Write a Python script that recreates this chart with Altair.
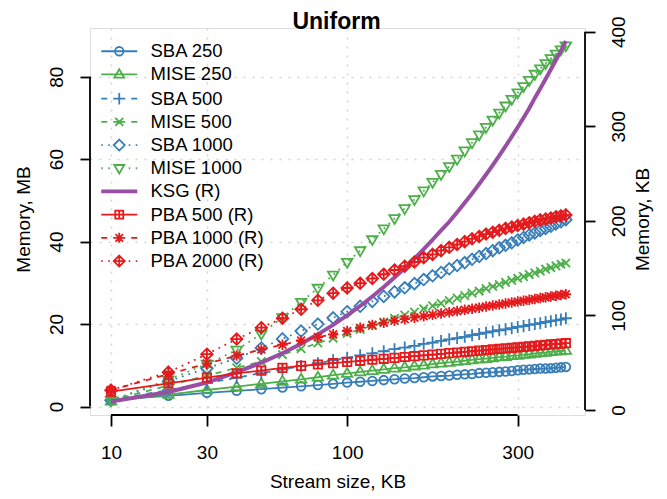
import altair as alt
import pandas as pd

# ---------------- data ----------------
stream_kb = [10, 20, 30, 40, 50, 60, 70, 80, 90, 100, 110, 120, 130, 140, 150, 160, 170, 180, 190, 200,
             210, 220, 230, 240, 250, 260, 270, 280, 290, 300, 310, 320, 330, 340, 350, 360, 370, 380, 390]

# left axis (MB)
sba_250 = [1.6, 2.6, 3.3, 3.8, 4.2, 4.6, 4.9, 5.2, 5.5, 5.8, 6.0, 6.2, 6.4, 6.6, 6.8, 6.9, 7.1, 7.3, 7.4, 7.5,
           7.7, 7.8, 7.9, 8.1, 8.2, 8.3, 8.4, 8.5, 8.6, 8.8, 8.9, 9.0, 9.1, 9.2, 9.2, 9.3, 9.4, 9.5, 9.6]
mise_250 = [1.3, 2.9, 4.0, 4.8, 5.5, 6.1, 6.6, 7.1, 7.6, 8.0, 8.4, 8.7, 9.0, 9.3, 9.5, 9.8, 10.0, 10.3, 10.5, 10.7,
            10.9, 11.1, 11.3, 11.5, 11.6, 11.8, 12.0, 12.1, 12.3, 12.4, 12.6, 12.7, 12.9, 13.0, 13.1, 13.3, 13.4, 13.5, 13.6]
sba_500 = [1.5, 4.0, 5.7, 7.0, 8.1, 9.0, 9.8, 10.5, 11.2, 11.8, 12.4, 12.9, 13.4, 13.9, 14.3, 14.7, 15.2, 15.5, 15.9, 16.3,
           16.6, 16.9, 17.3, 17.6, 17.9, 18.2, 18.5, 18.7, 19.0, 19.3, 19.5, 19.8, 20.0, 20.2, 20.5, 20.7, 20.9, 21.1, 21.4]
mise_500 = [1.5, 5.1, 7.5, 9.4, 10.9, 12.6, 14.0, 15.4, 16.6, 17.7, 18.7, 19.6, 20.5, 21.4, 22.2, 22.9, 23.7, 24.4, 25.0, 25.7,
            26.3, 26.9, 27.5, 28.0, 28.6, 29.1, 29.6, 30.1, 30.6, 31.1, 31.5, 32.0, 32.4, 32.8, 33.3, 33.7, 34.1, 34.5, 34.8]
sba_1000 = [1.5, 6.1, 9.3, 11.7, 14.2, 16.4, 18.3, 20.0, 21.5, 23.0, 24.3, 25.5, 26.7, 27.8, 28.8, 29.8, 30.8, 31.7, 32.5, 33.4,
            34.2, 34.9, 35.7, 36.4, 37.1, 37.8, 38.5, 39.1, 39.7, 40.4, 41.0, 41.6, 42.1, 42.7, 43.2, 43.7, 44.3, 44.8, 45.3]
mise_1000 = [1.5, 6.5, 10.3, 13.7, 17.6, 21.6, 25.3, 28.7, 31.9, 35.0, 37.8, 40.5, 43.1, 45.6, 48.0, 50.2, 52.3, 54.4, 56.3, 58.2,
             60.0, 62.0, 64.0, 65.9, 67.7, 69.5, 71.2, 72.9, 74.5, 76.1, 77.6, 79.1, 80.6, 81.9, 83.2, 84.4, 85.5, 86.5, 87.5]

# right axis (KB)
ksg = [9, 19, 29, 40, 50, 60, 70, 80, 90, 100, 110, 120, 130, 140, 150, 160, 170, 180, 190, 199,
       209, 219, 229, 239, 249, 259, 269, 279, 289, 299, 309, 319, 330, 340, 350, 360, 370, 380, 390]
pba_500 = [19.4, 28.2, 34.2, 38.8, 41.6, 44.5, 46.6, 48.1, 49.5, 50.8, 52.0, 53.1, 54.1, 55.1, 56.0, 56.9, 57.7, 58.5, 59.3, 60.1,
           60.8, 61.5, 62.1, 62.8, 63.4, 64.0, 64.6, 65.2, 65.7, 66.3, 66.8, 67.3, 67.8, 68.3, 68.8, 69.3, 69.7, 70.2, 70.6]
pba_1000 = [21.0, 38.0, 49.0, 57.5, 64.0, 69.0, 73.5, 77.0, 80.0, 83.5, 87.0, 90.0, 92.3, 94.3, 96.0, 97.6, 99.1, 100.6, 102.0, 103.3,
            104.6, 105.9, 107.1, 108.2, 109.4, 110.5, 111.5, 112.6, 113.6, 114.6, 115.5, 116.5, 117.4, 118.3, 119.1, 120.0, 120.8, 121.6, 122.4]
pba_2000 = [21, 40, 59, 75, 87, 97, 106.5, 116, 123.5, 129, 134, 139, 143.5, 148, 152, 156.5, 161, 164.5, 168.5, 172,
            175, 178, 181, 183.5, 186, 188, 190, 192, 193.5, 195, 196.5, 198, 199.5, 201, 202, 203, 204.3, 205.3, 206.3]

series_names = ["SBA 250", "MISE 250", "SBA 500", "MISE 500", "SBA 1000", "MISE 1000",
                "KSG (R)", "PBA 500 (R)", "PBA 1000 (R)", "PBA 2000 (R)"]
x_ticks = [10, 30, 100, 300]
left_ticks = [0, 20, 40, 60, 80]
right_ticks = [0, 100, 200, 300, 400]
chart_title = "Uniform"

# ---------------- style ----------------
BLUE, GREEN, PURPLE, RED = "#377EB8", "#4DAF4A", "#984EA3", "#E41A1C"
FONT = "Liberation Sans"
GRID = "#D3D3D3"
W, H = 495, 387
LW = 1.8
DASHED = [6, 6]
DOTTED = [1.8, 5]
MSIZE = 110

M_CIRCLE = "M0.85,0A0.85,0.85,0,1,1,-0.85,0A0.85,0.85,0,1,1,0.85,0Z"
M_TRIUP = "M0,-1.05L1,0.65L-1,0.65Z"
M_PLUS = "M-1.15,0L1.15,0M0,-1.15L0,1.15"
M_X = "M-0.8,-0.8L0.8,0.8M-0.8,0.8L0.8,-0.8"
M_DIAM = "M0,-1.1L1.1,0L0,1.1L-1.1,0Z"
M_TRIDN = "M0,1.05L1,-0.65L-1,-0.65Z"
M_SQPLUS = "M-0.8,-0.8L0.8,-0.8L0.8,0.8L-0.8,0.8ZM-0.8,0L0.8,0M0,-0.8L0,0.8"
M_AST = "M-1,0L1,0M0,-1L0,1M-0.75,-0.75L0.75,0.75M-0.75,0.75L0.75,-0.75"
M_DIAMPLUS = "M0,-1.1L1.1,0L0,1.1L-1.1,0ZM-1.1,0L1.1,0M0,-1.1L0,1.1"

L_SOLID = "M-3.6,0L3.6,0"
L_DASHED = "M-3.6,0L-2.4,0M-1.2,0L1.2,0M2.4,0L3.6,0"
L_DOTTED = "M-3.6,0L-3.3,0M-2.2,0L-1.9,0M1.9,0L2.2,0M3.3,0L3.6,0"
L_THICK = "M-3.6,-0.2L3.6,-0.2M-3.6,0L3.6,0M-3.6,0.2L3.6,0.2"

x_scale = alt.Scale(type="pow", exponent=0.25, domain=[7.506, 430.9], nice=False, zero=False)
yl_scale = alt.Scale(domain=[-2.06, 91.8], nice=False, zero=False)
yr_scale = alt.Scale(domain=[-5.3, 403.9], nice=False, zero=False)

common_axis = dict(domain=False, tickColor="black", tickWidth=1.8, labelFont=FONT, labelFontSize=19,
                   labelColor="black", labelOverlap=False, labelFlush=False, titleFont=FONT,
                   titleFontSize=19, titleFontWeight="normal", titleColor="black")

x_axis = alt.Axis(values=x_ticks, title="Stream size, KB", grid=True, gridColor=GRID, gridDash=[2, 7],
                  gridWidth=1.5, tickSize=11, labelPadding=26, labelBaseline="middle",
                  titleY=66, titleBaseline="middle", **common_axis)
left_axis = alt.Axis(values=left_ticks, orient="left", title="Memory, MB", grid=True, gridColor=GRID,
                     gridDash=[2, 7], gridWidth=1.5, tickSize=10, labelAngle=270, labelAlign="center",
                     labelBaseline="middle", labelPadding=24, titleAngle=270, titleX=-67, titleY=191,
                     titleAlign="center", titleBaseline="middle", **common_axis)
right_axis = alt.Axis(values=right_ticks, orient="right", title="Memory, KB", grid=False, tickSize=10,
                      labelAngle=270, labelAlign="center", labelBaseline="middle", labelPadding=23,
                      titleAngle=270, titleX=57, titleY=191, titleAlign="center", titleBaseline="middle",
                      **common_axis)

X = alt.X("x:Q", scale=x_scale, axis=x_axis)
YL = alt.Y("v:Q", scale=yl_scale, axis=left_axis)
YR = alt.Y("v:Q", scale=yr_scale, axis=right_axis)


def series(values, yenc, color, dash, marker, lw=LW):
    df = pd.DataFrame({"x": stream_kb, "v": values})
    base = alt.Chart(df).encode(x=X, y=yenc)
    line_kw = dict(color=color, strokeWidth=lw)
    if dash:
        line_kw["strokeDash"] = dash
    out = [base.mark_line(**line_kw)]
    if marker:
        if marker == "circle":
            out.append(base.mark_point(shape="circle", filled=False, size=76, strokeWidth=LW,
                                       color=color, opacity=1))
        else:
            out.append(base.mark_point(shape=marker, filled=False, size=MSIZE, strokeWidth=LW,
                                       color=color, opacity=1))
    return out


left_layers = []
left_layers += series(sba_250, YL, BLUE, None, "circle")
left_layers += series(mise_250, YL, GREEN, None, M_TRIUP)
left_layers += series(sba_500, YL, BLUE, DASHED, M_PLUS)
left_layers += series(mise_500, YL, GREEN, DASHED, M_X)
left_layers += series(sba_1000, YL, BLUE, DOTTED, M_DIAM)
left_layers += series(mise_1000, YL, GREEN, DOTTED, M_TRIDN)

# axis lines limited to the tick range (R style)
left_line = alt.Chart(pd.DataFrame({"v": [left_ticks[0]], "v2": [left_ticks[-1]]})).mark_rule(
    color="black", strokeWidth=1.8).encode(x=alt.value(0), y=YL, y2="v2")
bottom_line = alt.Chart(pd.DataFrame({"x": [x_ticks[0]], "x2": [x_ticks[-1]]})).mark_rule(
    color="black", strokeWidth=1.8).encode(x=X, x2="x2", y=alt.value(H))

title_layer = alt.Chart(pd.DataFrame({"t": [chart_title]})).mark_text(
    font=FONT, fontSize=23, fontWeight="bold", color="black", align="center", baseline="alphabetic"
).encode(text="t:N", x=alt.value(W / 2 - 1), y=alt.value(1))

legend_colors = [BLUE, GREEN, BLUE, GREEN, BLUE, GREEN, PURPLE, RED, RED, RED]
legend_shapes = [
    L_SOLID + M_CIRCLE, L_SOLID + M_TRIUP, L_DASHED + M_PLUS, L_DASHED + M_X,
    L_DOTTED + M_DIAM, L_DOTTED + M_TRIDN, L_THICK, L_SOLID + M_SQPLUS,
    L_DASHED + M_AST, L_DOTTED + M_DIAMPLUS,
]
leg = alt.Legend(orient="none", legendX=20, legendY=14, title=None, symbolSize=100,
                 symbolStrokeWidth=LW, symbolFillColor="transparent", labelFont=FONT,
                 labelFontSize=18.5, labelColor="black", labelOffset=22, rowPadding=4.2,
                 padding=0, symbolOpacity=1, labelLimit=300)
legend_layer = alt.Chart(pd.DataFrame({"s": series_names})).mark_point(
    filled=False, opacity=0, size=100).encode(
    color=alt.Color("s:N", scale=alt.Scale(domain=series_names, range=legend_colors), legend=leg),
    shape=alt.Shape("s:N", scale=alt.Scale(domain=series_names, range=legend_shapes), legend=leg),
)

left = alt.layer(*left_layers, left_line, bottom_line, legend_layer, title_layer)

right_layers = []
right_layers += series(ksg, YR, PURPLE, None, None, lw=4)
right_layers += series(pba_500, YR, RED, None, M_SQPLUS)
right_layers += series(pba_1000, YR, RED, DASHED, M_AST)
right_layers += series(pba_2000, YR, RED, DOTTED, M_DIAMPLUS)
right_line = alt.Chart(pd.DataFrame({"v": [right_ticks[0]], "v2": [right_ticks[-1]]})).mark_rule(
    color="black", strokeWidth=1.8).encode(x=alt.value(W), y=YR, y2="v2")
right = alt.layer(*right_layers, right_line)

chart = alt.layer(left, right).resolve_scale(y="independent").properties(
    width=W, height=H,
    padding={"left": 82, "top": 20, "right": 74, "bottom": 76},
    autosize=alt.AutoSizeParams(type="none"),
).configure_view(stroke=None).configure(background="white")

chart.save("out.html", embed_options={"renderer": "svg", "actions": False})
